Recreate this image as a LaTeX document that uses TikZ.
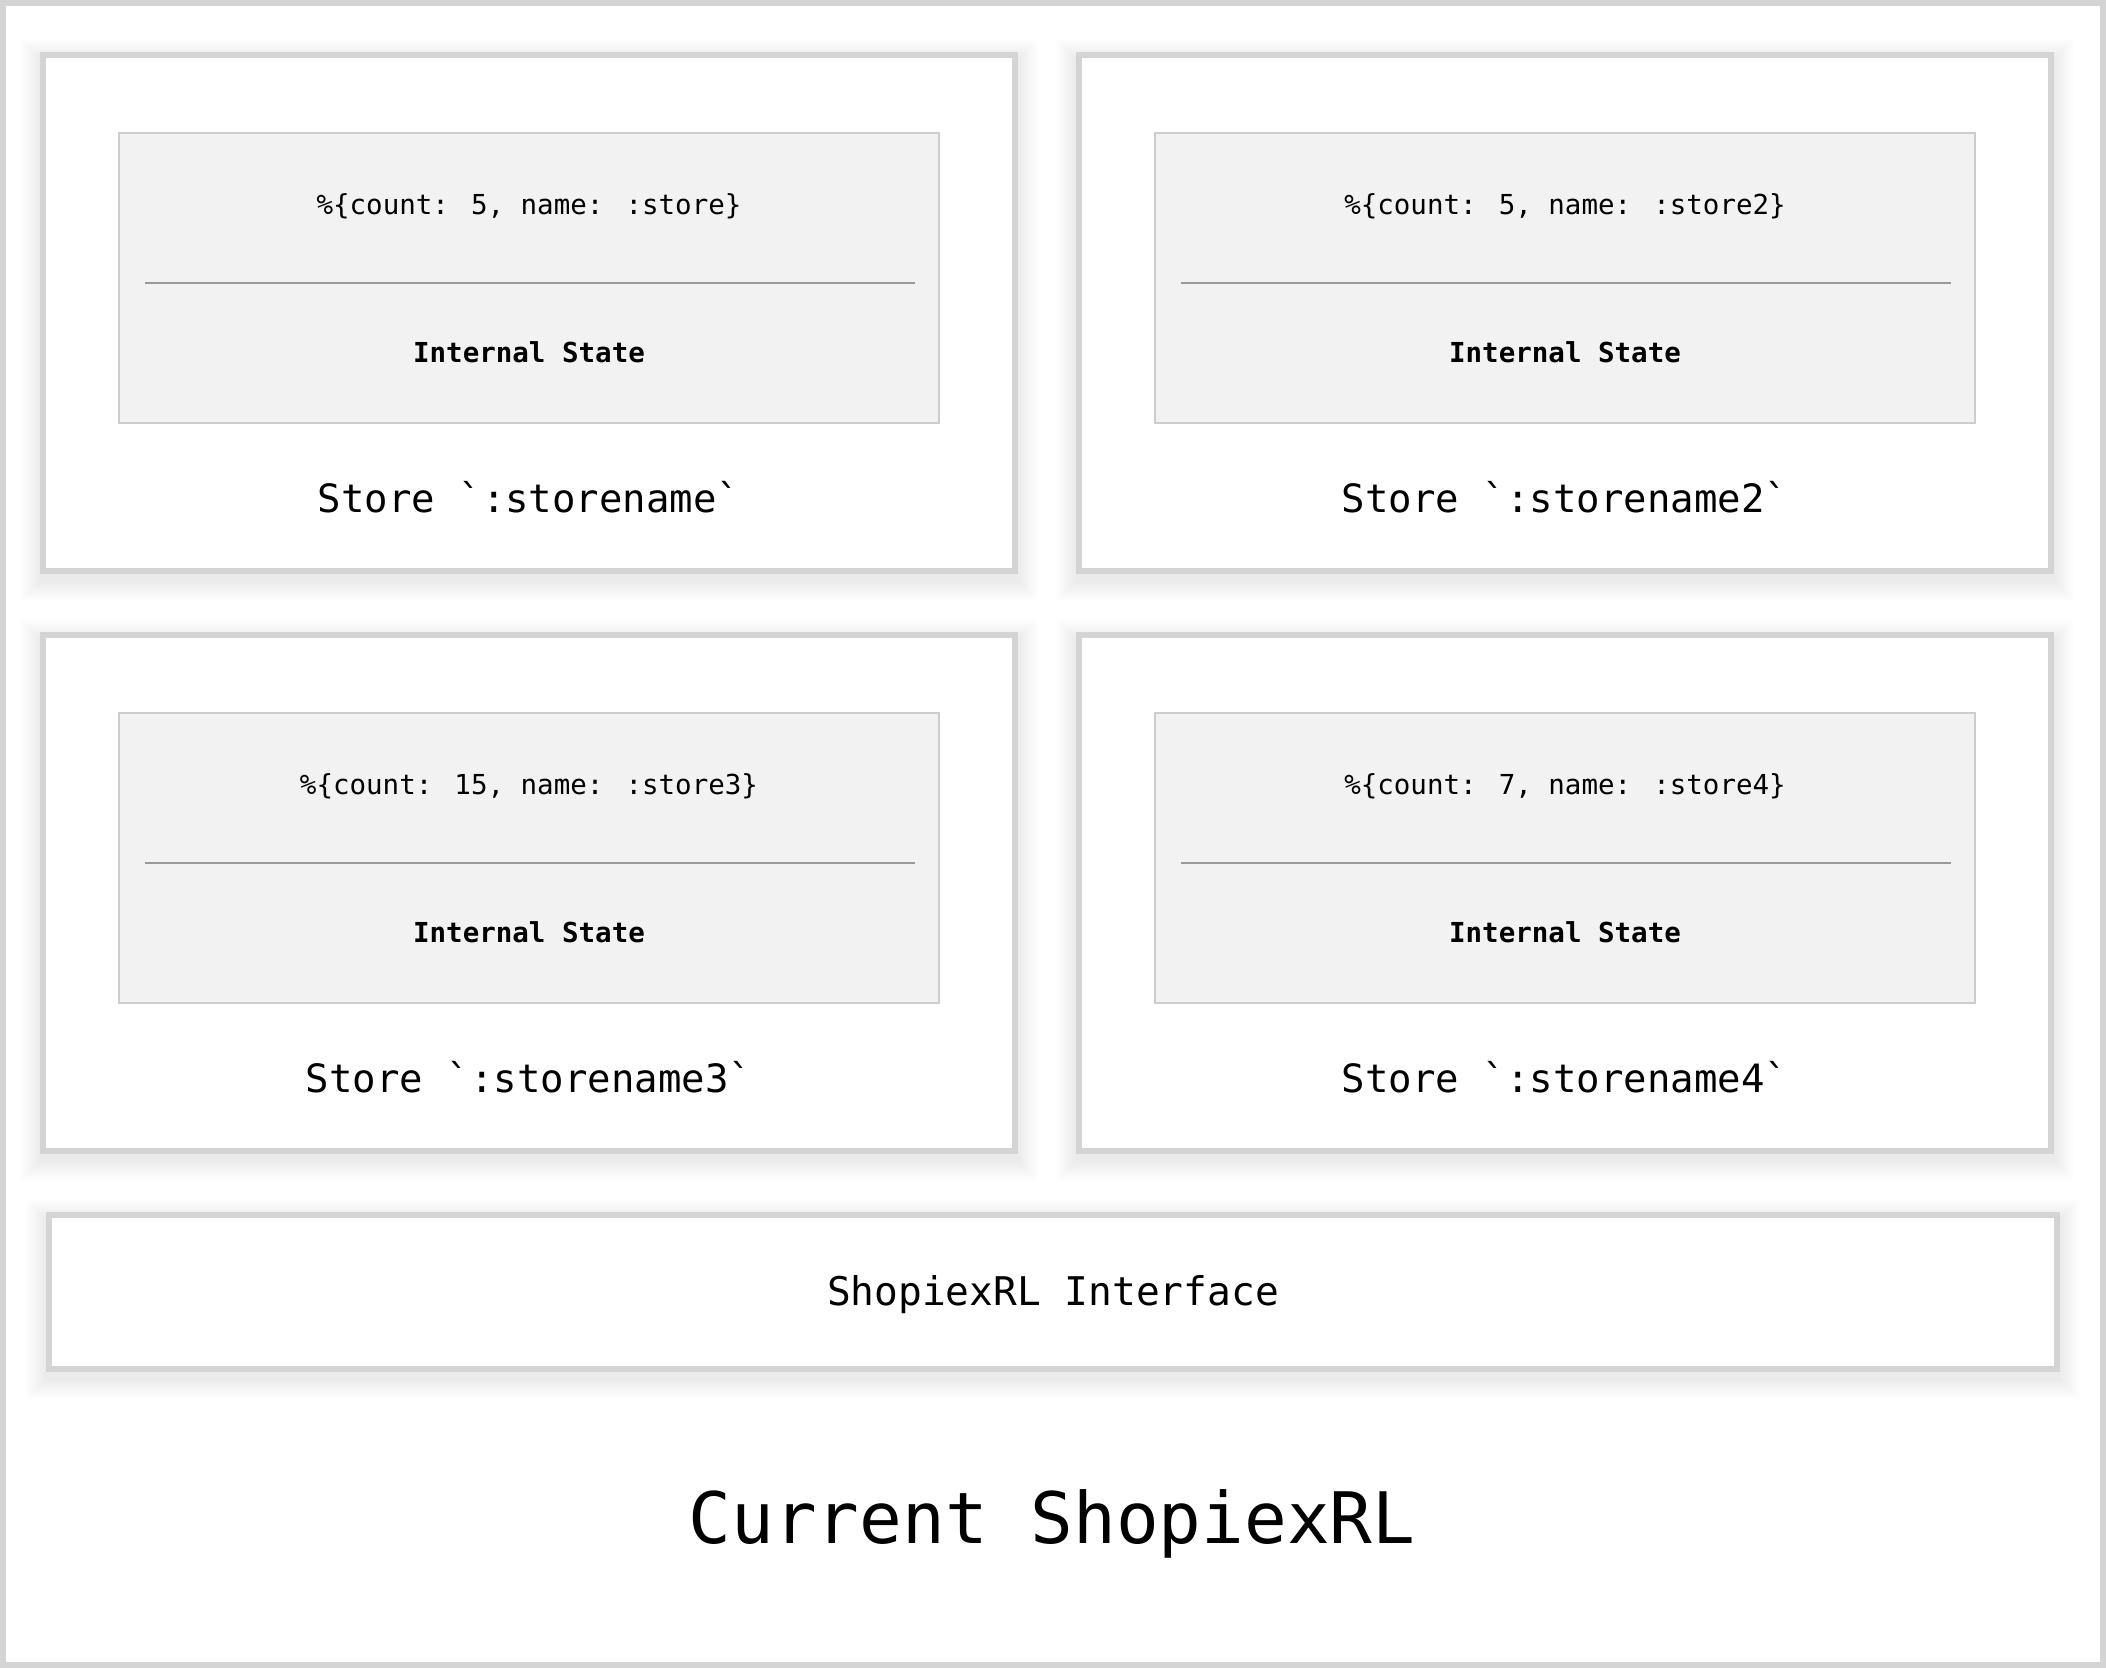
\documentclass[tikz,border=0pt]{standalone}
\usepackage{fontspec}
\newfontfamily\mono{DejaVu Sans Mono}
\usetikzlibrary{backgrounds,calc}
\definecolor{framegray}{HTML}{D4D4D4}
\definecolor{innerfill}{HTML}{F2F2F2}
\definecolor{innerline}{HTML}{CDCDCD}
\definecolor{divline}{HTML}{9A9A9A}
\tikzset{
  storebox/.style={draw=framegray, line width=6pt, fill=white, minimum width=972pt, minimum height=516pt, inner sep=0pt},
  ifacebox/.style={draw=framegray, line width=6pt, fill=white, minimum width=2008pt, minimum height=154pt, inner sep=0pt},
  statebox/.style={draw=innerline, line width=2pt, fill=innerfill, minimum width=820pt, minimum height=290pt, inner sep=0pt},
  divider/.style={draw=divline, line width=2pt},
  shadowlayer/.style={fill=black, fill opacity=0.0035},
  maptext/.style={font=\mono\fontsize{27.5}{33}\selectfont, inner sep=0pt},
  statetext/.style={font=\mono\bfseries\fontsize{27.5}{33}\selectfont, inner sep=0pt},
  storetext/.style={font=\mono\fontsize{39}{47}\selectfont, inner sep=0pt},
  ifacetext/.style={font=\mono\fontsize{39.5}{47}\selectfont, inner sep=0pt},
  titletext/.style={font=\mono\fontsize{71}{85}\selectfont, inner sep=0pt}
}
\begin{document}
\begin{tikzpicture}[x=1pt,y=-1pt]
\useasboundingbox (0,0) rectangle (2106,1668);
\draw[framegray, line width=6pt] (3,3) rectangle (2103,1665);

% store boxes
\node[storebox] (s1) at (529,313) {};
\node[storebox] (s2) at (1565,313) {};
\node[storebox] (s3) at (529,893) {};
\node[storebox] (s4) at (1565,893) {};

% inner state boxes
\node[statebox] (i1) at (529,278) {};
\node[statebox] (i2) at (1565,278) {};
\node[statebox] (i3) at (529,858) {};
\node[statebox] (i4) at (1565,858) {};

\draw[divider] (145,283) -- (915,283);
\draw[divider] (1181,283) -- (1951,283);
\draw[divider] (145,863) -- (915,863);
\draw[divider] (1181,863) -- (1951,863);

\node[maptext] (m1) at (529,206) {\%\{count: 5, name: :store\}};
\node[maptext] (m2) at (1565,206) {\%\{count: 5, name: :store2\}};
\node[maptext] (m3) at (529,786) {\%\{count: 15, name: :store3\}};
\node[maptext] (m4) at (1565,786) {\%\{count: 7, name: :store4\}};

\node[statetext] (t1) at (529,352) {Internal State};
\node[statetext] (t2) at (1565,352) {Internal State};
\node[statetext] (t3) at (529,932) {Internal State};
\node[statetext] (t4) at (1565,932) {Internal State};

\node[storetext] (n1) at (529,497) {Store \symbol{96}:storename\symbol{96}};
\node[storetext] (n2) at (1565,497) {Store \symbol{96}:storename2\symbol{96}};
\node[storetext] (n3) at (529,1077) {Store \symbol{96}:storename3\symbol{96}};
\node[storetext] (n4) at (1565,1077) {Store \symbol{96}:storename4\symbol{96}};

% interface
\node[ifacebox] (iface) at (1053,1292) {};
\node[ifacetext] (ifacelabel) at (1053,1295) {ShopiexRL Interface};

% title
\node[titletext] (title) at (1052,1524) {Current ShopiexRL};

% soft shadows
\begin{scope}[on background layer]
  \fill[white] (0,0) rectangle (2106,1668);
  \foreach \n in {s1,s2,s3,s4,iface}{
    \foreach \k in {1,...,20}{
      \fill[shadowlayer] ($(\n.north west)+(-\k,-\k+7)$) rectangle ($(\n.south east)+(\k,\k+7)$);
    }
  }
\end{scope}
\end{tikzpicture}
\end{document}
